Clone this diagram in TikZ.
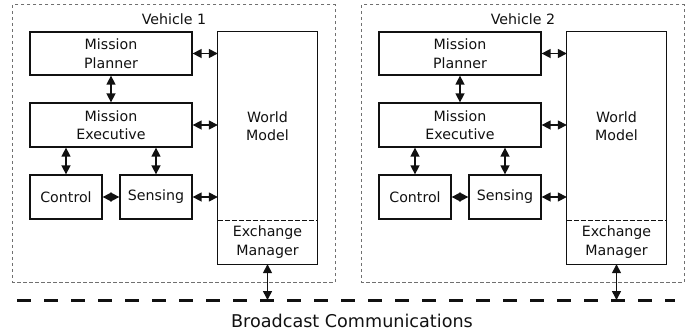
\documentclass[tikz,border=0pt]{standalone}
\usepackage{fontspec}
\setmainfont{DejaVu Sans}
\usetikzlibrary{arrows.meta}
\definecolor{ink}{HTML}{111111}
\definecolor{vgray}{HTML}{707070}
\tikzset{
  blk/.style={draw=ink, line width=1.3pt, inner sep=0pt, align=center, text=ink,
    font=\fontsize{14.2}{18.5}\selectfont},
  nobox/.style={draw=none, inner sep=0pt, align=center, text=ink,
    font=\fontsize{14.2}{18.5}\selectfont},
  link/.style={draw=ink, line width=1.5pt, {Triangle[length=9pt,width=9pt]}-{Triangle[length=9pt,width=9pt]}},
  vehbox/.style={draw=vgray, line width=0.8pt, dash pattern=on 3.5pt off 2.5pt},
  divider/.style={draw=ink, line width=1pt, dash pattern=on 5pt off 2pt},
  bus/.style={draw=ink, line width=3pt, dash pattern=on 13.5pt off 13.5pt},
}
\begin{document}
\begin{tikzpicture}[x=1pt,y=-1pt]
\useasboundingbox (0,0) rectangle (699,333);
\coordinate (bl) at (17,300);
\coordinate (br) at (675,300);
\draw[bus] (bl) -- (br);
\node[nobox, font=\fontsize{17.6}{20}\selectfont] (bc) at (352,321) {Broadcast Communications};
\foreach \i/\dx in {1/0,2/349}{
  \begin{scope}[xshift=\dx pt]
    \node[draw=none, minimum width=322pt, minimum height=277pt, inner sep=0pt] (veh\i) at (174,143.5) {};
    \draw[vehbox] (veh\i.north west) rectangle (veh\i.south east);
    \node[nobox] (vl\i) at (174,19.5) {Vehicle \i};
    \node[blk, minimum width=162pt, minimum height=43pt] (mp\i) at (111,53.5) {Mission\\Planner};
    \node[blk, minimum width=162pt, minimum height=44pt] (me\i) at (111,125) {Mission\\Executive};
    \node[blk, minimum width=72pt, minimum height=44pt] (ctl\i) at (66,197) {Control};
    \node[blk, minimum width=72pt, minimum height=44pt] (sen\i) at (156,197) {Sensing};
    \node[nobox, minimum width=99pt, minimum height=188pt] (wm\i) at (267.5,126) {World\\Model};
    \node[nobox, minimum width=99pt, minimum height=44pt] (em\i) at (267.5,242) {Exchange\\Manager};
    \draw[draw=ink, line width=1.3pt] (em\i.south west) rectangle (wm\i.north east);
    \draw[divider] (wm\i.south west) -- (wm\i.south east);
    \draw[link] (mp\i.east) -- (mp\i.east -| wm\i.west);
    \draw[link] (me\i.east) -- (me\i.east -| wm\i.west);
    \draw[link] (sen\i.east) -- (sen\i.east -| wm\i.west);
    \draw[link] (mp\i.south) -- (me\i.north);
    \draw[link] (ctl\i.north) -- (ctl\i.north |- me\i.south);
    \draw[link] (sen\i.north) -- (sen\i.north |- me\i.south);
    \draw[link] (ctl\i.east) -- (sen\i.west);
  \end{scope}
  \coordinate (tap\i) at (em\i.south |- bl);
  \draw[link] (em\i.south) -- (tap\i);
}
\end{tikzpicture}
\end{document}
